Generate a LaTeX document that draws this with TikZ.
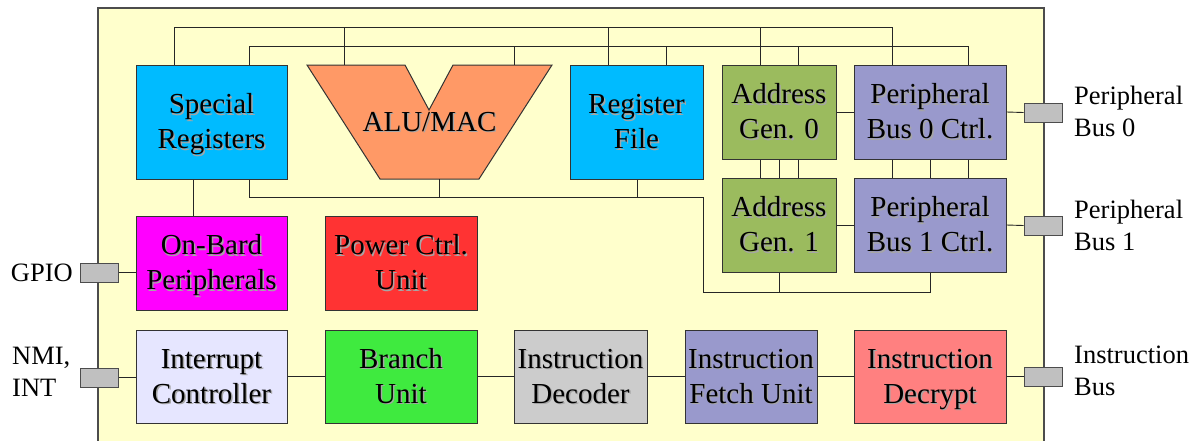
\documentclass[tikz,border=0pt]{standalone}
\usepackage{fontspec}
\setmainfont{Liberation Serif}
\usetikzlibrary{fit}
\definecolor{cyanB}{HTML}{00BBFF}
\definecolor{aluC}{HTML}{FF9966}
\definecolor{agC}{HTML}{9BBB5E}
\definecolor{pbC}{HTML}{9999CC}
\definecolor{obC}{HTML}{FF00FF}
\definecolor{pwC}{HTML}{FF3333}
\definecolor{icC}{HTML}{E6E6FF}
\definecolor{brC}{HTML}{3FEA3F}
\definecolor{idC}{HTML}{CCCCCC}
\definecolor{dcC}{HTML}{FF8080}
\definecolor{chipC}{HTML}{FFFFCC}
\definecolor{portC}{HTML}{C0C0C0}
\newcommand\blkfont{\fontsize{29}{35}\selectfont}
\newcommand\lblfont{\fontsize{26.5}{32}\selectfont}
\newcommand\tl[1]{\begin{tabular}{@{}c@{}}#1\end{tabular}}
\newcommand\tll[1]{\begin{tabular}{@{}l@{}}#1\end{tabular}}
\tikzset{
  blk/.style={draw=black!80, line width=1pt, inner sep=0pt},
  blktxt/.style={font=\blkfont, inner sep=0pt},
  shtxt/.style={text=black!35, font=\blkfont, inner sep=0pt},
  conn/.style={draw=black!85, line width=0.9pt},
  portbox/.style={draw=black!70, fill=portC, line width=1pt, inner sep=0pt},
  chipbox/.style={draw=black!70, fill=chipC, line width=1.2pt},
  extlbl/.style={font=\lblfont, inner sep=0pt}
}
% name, x1, y1, x2, y2, fill, text
\newcommand\blk[7]{%
  \node[blk, fill=#6, fit={(#2,#3)(#4,#5)}] (#1) {};
  \node[shtxt] (#1s) at ([shift={(1.4pt,-3.6pt)}]#1.center) {\tl{#7}};
  \node[blktxt] (#1t) at ([yshift=-2.2pt]#1.center) {\tl{#7}};}
\begin{document}
\begin{tikzpicture}[x=1pt,y=-1pt]
\useasboundingbox (0,0) rectangle (1199,440);
% chip
\path[chipbox] (98,8) rectangle (1044,470);

% ports
\node[portbox, fit={(1024,103)(1062,122)}] (p0) {};
\node[portbox, fit={(1024,216)(1062,235)}] (p1) {};
\node[portbox, fit={(1024,367)(1062,386)}] (p2) {};
\node[portbox, fit={(80,263)(118,282)}] (pg) {};
\node[portbox, fit={(80,368)(118,387)}] (pn) {};

% top buses
\coordinate (a1) at (174,27);
\coordinate (a2) at (344,27);
\coordinate (a3) at (608,27);
\coordinate (a4) at (760,27);
\coordinate (a5) at (892,27);
\coordinate (b1) at (249,46);
\coordinate (b2) at (514,46);
\coordinate (b3) at (666,46);
\coordinate (b4) at (798,46);
\coordinate (b5) at (968,46);
\draw[conn] (a1) -- (a5);
\draw[conn] (b1) -- (b5);

% blocks
\blk{sr}{136}{65}{287}{179}{cyanB}{Special\\Registers}
\blk{rf}{570}{65}{703}{179}{cyanB}{Register\\File}
\blk{ag0}{722}{65}{836}{159}{agC}{Address\\Gen. 0}
\blk{pb0}{854}{65}{1006}{159}{pbC}{Peripheral\\Bus 0 Ctrl.}
\blk{ag1}{722}{178}{836}{272}{agC}{Address\\Gen. 1}
\blk{pb1}{854}{178}{1006}{272}{pbC}{Peripheral\\Bus 1 Ctrl.}
\blk{ob}{136}{216}{287}{310}{obC}{On-Bard\\Peripherals}
\blk{pw}{325}{216}{477}{310}{pwC}{Power Ctrl.\\Unit}
\blk{ic}{136}{330}{287}{423}{icC}{Interrupt\\Controller}
\blk{br}{325}{330}{477}{423}{brC}{Branch\\Unit}
\blk{id}{514}{330}{647}{423}{idC}{Instruction\\Decoder}
\blk{if}{685}{330}{817}{423}{pbC}{Instruction\\Fetch Unit}
\blk{dc}{854}{330}{1006}{423}{dcC}{Instruction\\Decrypt}

% ALU/MAC trapezoid
\draw[fill=aluC, draw=black!80, line width=1pt] (307,65) -- (405,65) -- (429,110) -- (453,65) -- (552,65) -- (479,179) -- (380,179) -- cycle;
\node[inner sep=0pt, fit={(307,65)(552,179)}] (alu) {};
\node[shtxt] (alush) at ([shift={(1.4pt,-1.4pt)}]alu.center) {ALU/MAC};
\node[blktxt] (alut) at (alu.center) {ALU/MAC};

% taps from top buses
\draw[conn] (a1) -- (a1 |- sr.north);
\draw[conn] (a2) -- (a2 |- alu.north);
\draw[conn] (a3) -- (a3 |- rf.north);
\draw[conn] (a4) -- (a4 |- ag0.north);
\draw[conn] (a5) -- (a5 |- pb0.north);
\draw[conn] (b1) -- (b1 |- sr.north);
\draw[conn] (b2) -- (b2 |- alu.north);
\draw[conn] (b3) -- (b3 |- rf.north);
\draw[conn] (b4) -- (b4 |- ag0.north);
\draw[conn] (b5) -- (b5 |- pb0.north);

% between upper and lower address/peripheral blocks
\coordinate (c779) at (779,0);
\coordinate (c930) at (930,0);
\draw[conn] (a4 |- ag0.south) -- (a4 |- ag1.north);
\draw[conn] (c779 |- ag0.south) -- (c779 |- ag1.north);
\draw[conn] (b4 |- ag0.south) -- (b4 |- ag1.north);
\draw[conn] (a5 |- pb0.south) -- (a5 |- pb1.north);
\draw[conn] (c930 |- pb0.south) -- (c930 |- pb1.north);
\draw[conn] (b5 |- pb0.south) -- (b5 |- pb1.north);

% horizontal links right side
\draw[conn] (ag0.east) -- (pb0.west);
\draw[conn] (pb0.east) -- (p0.west);
\draw[conn] (ag1.east) -- (pb1.west);
\draw[conn] (pb1.east) -- (p1.west);

% lower bus
\coordinate (l1) at (249,197);
\coordinate (l2) at (703,197);
\coordinate (l3) at (703,292);
\coordinate (l4) at (930,292);
\coordinate (t1) at (439,197);
\coordinate (t2) at (637,197);
\coordinate (t3) at (779,292);
\draw[conn] (l1 |- sr.south) -- (l1) -- (l2) -- (l3) -- (l4) -- (l4 |- pb1.south);
\draw[conn] (t1 |- alu.south) -- (t1);
\draw[conn] (t2 |- rf.south) -- (t2);
\draw[conn] (t3 |- ag1.south) -- (t3);

% special registers to on-board peripherals
\coordinate (c193) at (193,0);
\draw[conn] (c193 |- sr.south) -- (c193 |- ob.north);

% left ports
\draw[conn] (pg.east) -- (pg.east -| ob.west);
\draw[conn] (pn.east) -- (pn.east -| ic.west);

% instruction chain
\draw[conn] (ic.east) -- (br.west);
\draw[conn] (br.east) -- (id.west);
\draw[conn] (id.east) -- (if.west);
\draw[conn] (if.east) -- (dc.west);
\draw[conn] (dc.east) -- (p2.west);

% external labels
\node[extlbl, anchor=west] (lp0) at (1074,114) {\tll{Peripheral\\Bus 0}};
\node[extlbl, anchor=west] (lp1) at (1074,228) {\tll{Peripheral\\Bus 1}};
\node[extlbl, anchor=west] (lp2) at (1074,373) {\tll{Instruction\\Bus}};
\node[extlbl, anchor=east] (lg) at (73,273) {GPIO};
\node[extlbl, anchor=west] (ln) at (12,374) {\tll{NMI,\\INT}};
\end{tikzpicture}
\end{document}
